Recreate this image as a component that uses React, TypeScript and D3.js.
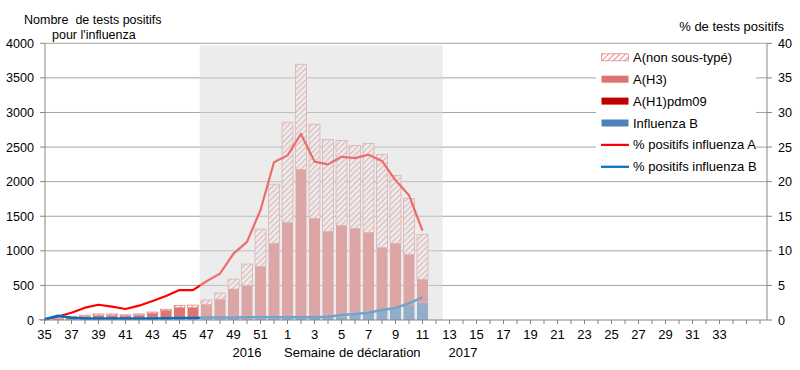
import * as d3 from "d3";

// week labels on the category axis (2016 week 35 -> 2017 week 36)
const weeks = [
  "35", "36", "37", "38", "39", "40", "41", "42", "43", "44", "45", "46", "47", "48", "49", "50", "51", "52",
  "1", "2", "3", "4", "5", "6", "7", "8", "9", "10", "11", "12", "13", "14", "15", "16", "17", "18",
  "19", "20", "21", "22", "23", "24", "25", "26", "27", "28", "29", "30", "31", "32", "33", "34", "35", "36",
];
const tickLabels = ["35", "37", "39", "41", "43", "45", "47", "49", "51", "1", "3", "5", "7", "9", "11",
  "13", "15", "17", "19", "21", "23", "25", "27", "29", "31", "33"];

// counts per week (weeks 35/2016 .. 11/2017)
const fluB = [2, 8, 8, 8, 8, 8, 8, 8, 8, 10, 10, 8, 10, 10, 12, 12, 15, 20, 25, 30, 30, 35, 47, 95, 105, 150, 165, 205, 248];
const h1pdm = [0, 0, 0, 0, 0, 0, 0, 0, 0, 0, 0, 0, 2, 2, 3, 3, 3, 5, 5, 5, 5, 5, 5, 10, 8, 8, 8, 8, 5];
const h3 = [2, 10, 30, 45, 60, 60, 50, 62, 90, 125, 168, 170, 214, 287, 433, 486, 757, 1082, 1381, 2141, 1433, 1241, 1315, 1219, 1153, 891, 934, 735, 334];
const nonSubtyped = [1, 20, 15, 17, 20, 20, 17, 18, 17, 20, 34, 37, 63, 91, 144, 308, 539, 857, 1448, 1521, 1362, 1328, 1228, 1198, 1285, 1343, 982, 809, 650];

// % positive
const pctA = [0.1, 0.5, 1.05, 1.78, 2.2, 1.93, 1.59, 2.07, 2.74, 3.47, 4.33, 4.33, 5.6, 6.7, 9.6, 11.3, 15.9, 22.8, 23.8, 26.9, 22.9, 22.5, 23.6, 23.4, 23.9, 23.0, 20.2, 18.05, 12.9];
const pctB = [0.1, 0.62, 0.33, 0.2, 0.2, 0.2, 0.2, 0.2, 0.2, 0.25, 0.3, 0.3, 0.35, 0.35, 0.35, 0.4, 0.4, 0.4, 0.4, 0.39, 0.4, 0.48, 0.72, 0.87, 1.06, 1.44, 1.73, 2.41, 3.27];

const leftTicks = [0, 500, 1000, 1500, 2000, 2500, 3000, 3500, 4000];
const rightTicks = [0, 5, 10, 15, 20, 25, 30, 35, 40];

// shaded period: weeks 47/2016 .. 12/2017
const shadeFrom = 12;
const shadeTo = 29;
const shadeTop = 39.7;

const FONT = "'Liberation Sans', Arial, sans-serif";
const C_H3 = "#e07272";
const C_H1 = "#c00000";
const C_B = "#4f81bd";
const C_LA = "#ff0000";
const C_LB = "#0070c0";

export default function App() {
  const margin = { left: 45, right: 767, top: 43.3, bottom: 320 };
  const x = d3.scaleLinear().domain([0, 53.5]).range([44.5, 766.75]);
  const y = d3.scaleLinear().domain([0, 4000]).range([margin.bottom, margin.top]);
  const yR = d3.scaleLinear().domain([0, 40]).range([margin.bottom, margin.top]);
  const barW = 11;

  const rows = fluB.map((b, i) => ({ i, b, h1: h1pdm[i], h3: h3[i], nst: nonSubtyped[i] }));
  const keys = ["b", "h1", "h3", "nst"];
  const series = d3.stack<any>().keys(keys)(rows);
  const fills: Record<string, string> = { b: C_B, h1: C_H1, h3: C_H3, nst: "url(#hatch)" };

  const line = d3
    .line<number>()
    .x((_, i) => x(i))
    .y((d) => yR(d));

  const legend = [
    { label: "A(non sous-typé)", kind: "hatch" },
    { label: "A(H3)", kind: "bar", color: C_H3 },
    { label: "A(H1)pdm09", kind: "bar", color: C_H1 },
    { label: "Influenza B", kind: "bar", color: C_B },
    { label: "% positifs influenza A", kind: "line", color: C_LA },
    { label: "% positifs influenza B", kind: "line", color: C_LB },
  ];

  return (
    <svg width={800} height={370} style={{ position: "absolute", left: 0, top: 0, fontFamily: FONT }}>
      <defs>
        <pattern id="hatch" width="4" height="4" patternUnits="userSpaceOnUse" patternTransform="rotate(45)">
          <rect width="4" height="4" fill="#ffffff" />
          <line x1="0" y1="0" x2="0" y2="4" stroke="#e39090" strokeWidth="2.2" />
        </pattern>
      </defs>
      <rect width={800} height={370} fill="#ffffff" />

      {/* gridlines */}
      {leftTicks.slice(1).map((t) => (
        <line key={t} x1={margin.left} x2={margin.right} y1={y(t)} y2={y(t)} stroke="#a3a3a3" strokeWidth={1} />
      ))}

      {/* stacked bars */}
      {series.map((s) => (
        <g key={s.key}>
          {s.map((d, i) =>
            d[1] - d[0] > 0 ? (
              <rect
                key={i}
                x={x(i) - barW / 2}
                width={barW}
                y={y(d[1])}
                height={y(d[0]) - y(d[1])}
                fill={fills[s.key]}
                stroke={s.key === "nst" ? "#e08a8a" : "none"}
                strokeWidth={s.key === "nst" ? 0.8 : 0}
              />
            ) : null
          )}
        </g>
      ))}

      {/* % lines */}
      <path d={line(pctA) || ""} fill="none" stroke={C_LA} strokeWidth={2.2} strokeLinejoin="round" />
      <path d={line(pctB) || ""} fill="none" stroke={C_LB} strokeWidth={2.5} strokeLinejoin="round" />

      {/* shaded season overlay */}
      <rect
        x={x(shadeFrom - 0.5)}
        width={x(shadeTo + 0.5) - x(shadeFrom - 0.5)}
        y={yR(shadeTop)}
        height={yR(0) - yR(shadeTop)}
        fill="#dadada"
        opacity={0.5}
      />

      {/* axes */}
      <line x1={margin.left} x2={margin.left} y1={margin.top} y2={margin.bottom} stroke="#868686" />
      <line x1={margin.right} x2={margin.right} y1={margin.top} y2={margin.bottom} stroke="#868686" />
      <line x1={margin.left} x2={margin.right} y1={margin.bottom} y2={margin.bottom} stroke="#868686" />
      {leftTicks.map((t) => (
        <g key={t}>
          <line x1={margin.left - 5} x2={margin.left} y1={y(t)} y2={y(t)} stroke="#868686" />
          <text x={34} y={y(t) + 4.5} textAnchor="end" fontSize={12.6}>
            {t}
          </text>
        </g>
      ))}
      {rightTicks.map((t) => (
        <g key={t}>
          <line x1={margin.right} x2={margin.right + 5} y1={yR(t)} y2={yR(t)} stroke="#868686" />
          <text x={778} y={yR(t) + 4.5} textAnchor="start" fontSize={12.6}>
            {t}
          </text>
        </g>
      ))}
      {weeks.map((w, i) => (
        <line key={i} x1={x(i)} x2={x(i)} y1={margin.bottom} y2={margin.bottom + 4} stroke="#868686" />
      ))}
      {weeks.map((w, i) =>
        i % 2 === 0 && tickLabels.includes(w) && i <= 50 ? (
          <text key={i} x={x(i)} y={339} textAnchor="middle" fontSize={13}>
            {w}
          </text>
        ) : null
      )}
      <text x={x(15)} y={357} textAnchor="middle" fontSize={13}>2016</text>
      <text x={x(22.8)} y={357} textAnchor="middle" fontSize={13}>Semaine de déclaration</text>
      <text x={x(31)} y={357} textAnchor="middle" fontSize={13}>2017</text>

      {/* axis titles */}
      <text x={24} y={23.5} fontSize={12.5} style={{ whiteSpace: "pre" }}>Nombre  de tests positifs</text>
      <text x={52} y={38.5} fontSize={12.5}>pour l'influenza</text>
      <text x={784} y={30.5} textAnchor="end" fontSize={13}>% de tests positifs</text>

      {/* legend */}
      <rect x={596} y={46} width={160} height={130} fill="#ffffff" />
      {legend.map((l, k) => {
        const cy = 57.3 + k * 21.9;
        return (
          <g key={l.label}>
            {l.kind === "line" ? (
              <line x1={601} x2={629} y1={cy} y2={cy} stroke={l.color} strokeWidth={2.2} />
            ) : (
              <rect
                x={601.5}
                y={cy - 3.5}
                width={27}
                height={7}
                fill={l.kind === "hatch" ? "url(#hatch)" : l.color}
                stroke={l.kind === "hatch" ? "#e08a8a" : "none"}
                strokeWidth={0.8}
              />
            )}
            <text x={633} y={cy + 4.5} fontSize={13}>
              {l.label}
            </text>
          </g>
        );
      })}
    </svg>
  );
}
